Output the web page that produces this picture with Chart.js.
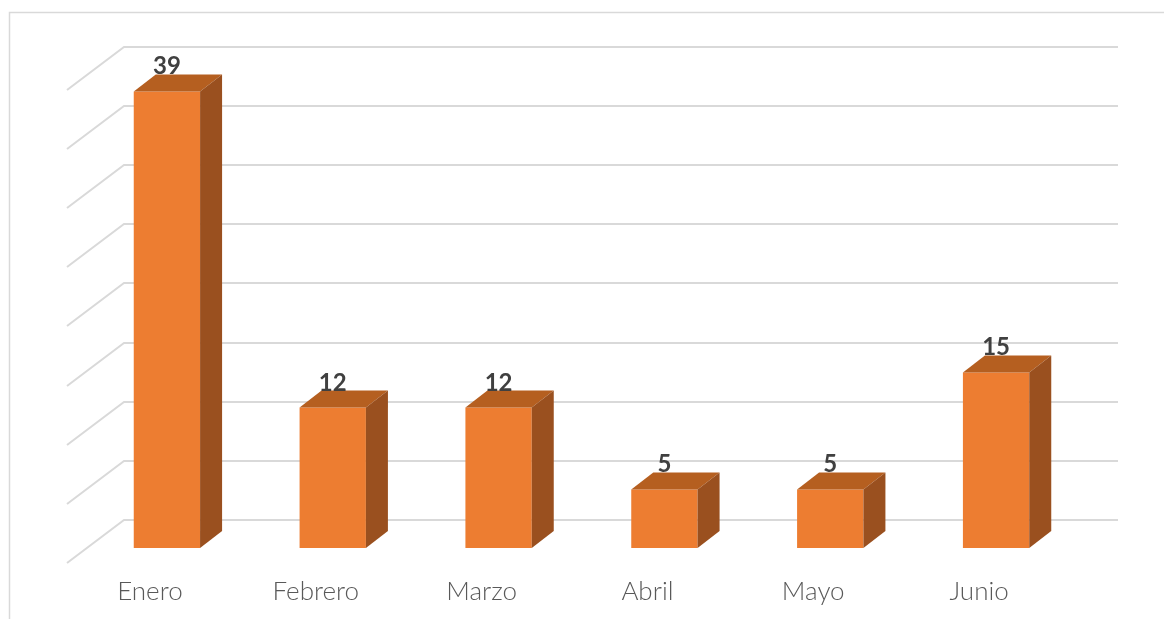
<!DOCTYPE html>
<html>
<head>
<meta charset="utf-8">
<script src="https://cdn.jsdelivr.net/npm/chart.js@4/dist/chart.umd.min.js"></script>
<style>
  html, body { margin: 0; padding: 0; background: #fff; }
  #wrap { width: 1164px; height: 619px; position: relative; }
</style>
</head>
<body>
<div id="wrap"><canvas id="mycanvas" width="1164" height="619"></canvas></div>
<script>
var months = ["Enero", "Febrero", "Marzo", "Abril", "Mayo", "Junio"];
var casos = [39, 12, 12, 5, 5, 15];
var wallTicks = [0, 5, 10, 15, 20, 25, 30, 35, 40];

// 3d look, pixels
var depthX = 22, depthY = 17;
var wallShiftX = 40, floorX = -17, floorY = 43;

var wall3d = {
	id: "wall3d",
	beforeDatasetsDraw: function(chart) {
		var ctx = chart.ctx, area = chart.chartArea, wall = chart.scales.yWall;
		ctx.save();
		ctx.strokeStyle = "#d9d9d9";
		ctx.lineWidth = 2;
		for (var i = 0; i < wallTicks.length; i++) {
			var y = Math.round(wall.getPixelForValue(wallTicks[i]));
			ctx.beginPath();
			ctx.moveTo(area.left + floorX, y + floorY);
			ctx.lineTo(area.left + wallShiftX, y);
			ctx.lineTo(area.right + wallShiftX - 1, y);
			ctx.stroke();
		}
		ctx.restore();
	},
	afterDatasetsDraw: function(chart) {
		var ctx = chart.ctx;
		var bars = chart.getDatasetMeta(0).data;
		ctx.save();
		for (var i = 0; i < bars.length; i++) {
			var b = bars[i];
			var l = b.x - b.width / 2, r = b.x + b.width / 2, t = b.y, btm = b.base;
			// top face
			ctx.fillStyle = "#b55f20";
			ctx.beginPath();
			ctx.moveTo(l, t);
			ctx.lineTo(l + depthX, t - depthY);
			ctx.lineTo(r + depthX, t - depthY);
			ctx.lineTo(r, t);
			ctx.closePath();
			ctx.fill();
			// side face
			ctx.fillStyle = "#9a501f";
			ctx.beginPath();
			ctx.moveTo(r, t);
			ctx.lineTo(r + depthX, t - depthY);
			ctx.lineTo(r + depthX, btm - depthY);
			ctx.lineTo(r, btm);
			ctx.closePath();
			ctx.fill();
			// value label
			ctx.fillStyle = "#404040";
			ctx.font = "bold 24px Lato, 'DejaVu Sans', sans-serif";
			ctx.textAlign = "center";
			ctx.textBaseline = "alphabetic";
			ctx.fillText(String(casos[i]), b.x, t - depthY);
		}
		ctx.restore();
	},
	afterDraw: function(chart) {
		var ctx = chart.ctx;
		ctx.save();
		ctx.strokeStyle = "#d9d9d9";
		ctx.lineWidth = 1.5;
		ctx.beginPath();
		ctx.moveTo(9.5, 619);
		ctx.lineTo(9.5, 12.5);
		ctx.lineTo(1164, 12.5);
		ctx.stroke();
		ctx.restore();
	}
};

var chartdata = {
	labels: months,
	datasets: [{
		label: "casos",
		data: casos,
		backgroundColor: "#ed7d31",
		borderWidth: 0,
		barPercentage: 0.4,
		categoryPercentage: 1
	}]
};

var linegrapgh = new Chart(document.getElementById("mycanvas"), {
	type: "bar",
	data: chartdata,
	plugins: [wall3d],
	options: {
		responsive: false,
		animation: false,
		events: [],
		layout: { padding: { top: 47, left: 84, right: 85, bottom: 0 } },
		plugins: { legend: { display: false }, tooltip: { enabled: false } },
		scales: {
			x: {
				grid: { display: false },
				border: { display: false },
				afterFit: function(scale) { scale.height = 71; },
				ticks: {
					padding: 20,
					labelOffset: -17,
					color: "#595959",
					font: { family: "Lato, 'DejaVu Sans', sans-serif", size: 26, weight: "300" }
				}
			},
			y: { display: false, min: 0, max: 42.8 },
			yWall: { display: false, position: "left", min: -2.37, max: 40 }
		}
	}
});
</script>
</body>
</html>
